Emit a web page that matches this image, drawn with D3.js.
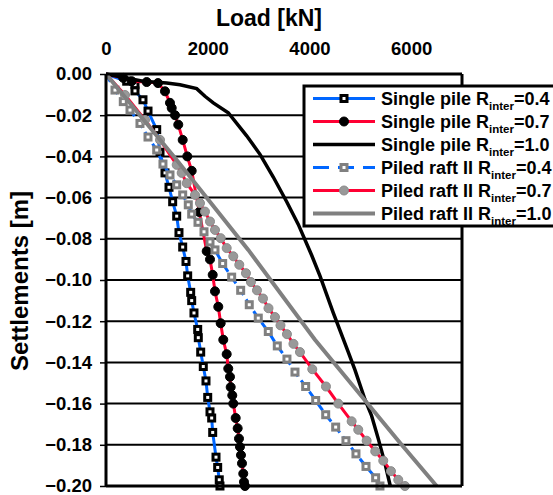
<!DOCTYPE html>
<html>
<head>
<meta charset="utf-8">
<script src="https://cdn.jsdelivr.net/npm/d3@7"></script>
<style>
  body { margin: 0; background: #fff; }
  svg text { font-family: Arial, "Liberation Sans", sans-serif; font-weight: bold; }
</style>
</head>
<body>
<svg id="chart" width="553" height="495"></svg>
<script>
/* ======================= DATA ======================= */
// [load kN, settlement m]
let singlePile04 = [[0,0],[407,-0.0035],[570,-0.0052],[570,-0.0082],[727,-0.0125],[826,-0.018],[997,-0.027],
    [1062,-0.038],[1160,-0.048],[1239,-0.055],[1311,-0.062],[1390,-0.069],[1435,-0.077],[1508,-0.084],
    [1573,-0.091],[1606,-0.098],[1665,-0.106],[1685,-0.110],[1730,-0.116],[1803,-0.124],[1815,-0.128],
    [1862,-0.135],[1913,-0.142],[1966,-0.149],[2000,-0.157],[2045,-0.164],[2078,-0.167],[2098,-0.174],
    [2163,-0.186],[2196,-0.191],[2227,-0.197],[2241,-0.200]];

let singlePile07 = [[0,0],[340,-0.0019],[505,-0.0035],[800,-0.0039],[1022,-0.0044],[1160,-0.0084],[1258,-0.014],
    [1292,-0.0165],[1357,-0.020],[1421,-0.0246],[1508,-0.032],[1598,-0.040],[1685,-0.047],[1834,-0.067],
    [1980,-0.086],[2045,-0.090],[2098,-0.0975],[2143,-0.1055],[2208,-0.113],[2255,-0.121],[2306,-0.129],
    [2373,-0.136],[2404,-0.143],[2438,-0.147],[2452,-0.152],[2483,-0.156],[2503,-0.160],[2550,-0.167],
    [2589,-0.172],[2615,-0.177],[2634,-0.181],[2654,-0.185],[2674,-0.189],[2699,-0.194],[2713,-0.198],[2733,-0.200]];

let singlePile10 = [[0,0],[727,-0.0035],[1193,-0.0044],[1455,-0.0052],[1783,-0.0071],[1946,-0.0108],[2110,-0.014],
    [2404,-0.0188],[2766,-0.030],[3028,-0.039],[3289,-0.050],[3553,-0.062],[3781,-0.073],[4044,-0.088],
    [4207,-0.098],[4469,-0.116],[4764,-0.135],[4895,-0.1436],[5092,-0.158],[5224,-0.166],[5353,-0.177],
    [5485,-0.189],[5590,-0.200]];

let piledRaft04 = [[0,0],[177,-0.0078],[340,-0.0134],[472,-0.0175],[668,-0.024],[826,-0.0306],[997,-0.0369],
    [1120,-0.0437],[1258,-0.049],[1390,-0.0538],[1508,-0.0587],[1618,-0.0635],[1685,-0.068],[1809,-0.072],
    [1927,-0.0766],[2045,-0.0815],[2143,-0.0854],[2294,-0.092],[2471,-0.0986],[2648,-0.105],[2817,-0.112],
    [2994,-0.1185],[3191,-0.125],[3368,-0.132],[3558,-0.1384],[3716,-0.1447],[3926,-0.1517],[4123,-0.1585],
    [4320,-0.1654],[4516,-0.1714],[4718,-0.178],[4915,-0.1844],[5112,-0.1905],[5302,-0.196],[5387,-0.200]];

let piledRaft07 = [[0,0],[374,-0.0102],[767,-0.0223],[1062,-0.032],[1390,-0.0441],[1488,-0.048],[1587,-0.053],
    [1750,-0.0587],[1848,-0.0627],[1946,-0.0668],[2045,-0.0716],[2143,-0.0757],[2255,-0.0797],[2373,-0.0845],
    [2503,-0.0885],[2621,-0.0926],[2752,-0.0967],[2850,-0.101],[2969,-0.105],[3087,-0.109],[3195,-0.1137],
    [3323,-0.118],[3431,-0.122],[3558,-0.1263],[3686,-0.131],[3814,-0.135],[4056,-0.1433],[4325,-0.1517],
    [4567,-0.160],[4830,-0.1686],[4960,-0.1727],[5125,-0.178],[5294,-0.1832],[5452,-0.1877],[5603,-0.1928],
    [5747,-0.197],[5878,-0.200]];

let piledRaft10 = [[0,0],[1390,-0.0417],[2798,-0.0854],[4109,-0.129],[4567,-0.1427],[5780,-0.179],[6501,-0.200]];

let xTicks = [0, 2000, 4000, 6000];
let yTicks = [0, -0.02, -0.04, -0.06, -0.08, -0.10, -0.12, -0.14, -0.16, -0.18, -0.20];

let seriesNames = ["Single pile R", "Single pile R", "Single pile R", "Piled raft II R", "Piled raft II R", "Piled raft II R"];
let seriesValues = ["=0.4", "=0.7", "=1.0", "=0.4", "=0.7", "=1.0"];

/* ====================== STYLES ====================== */
const BLUE = "#0066ff", RED = "#ff0033", GREY = "#808080";

let series = [
    { data: singlePile04, color: BLUE, width: 3, dash: null, marker: "square", mColor: "#000" },
    { data: singlePile07, color: RED, width: 3, dash: null, marker: "circle", mColor: "#000" },
    { data: singlePile10, color: "#000", width: 3.5, dash: null, marker: null },
    { data: piledRaft04, color: BLUE, width: 3, dash: "9,5", marker: "square", mColor: GREY },
    { data: piledRaft07, color: RED, width: 3, dash: null, marker: "circle", mColor: GREY },
    { data: piledRaft10, color: GREY, width: 4, dash: null, marker: null }
];

/* ====================== CHART ======================= */
let svg = d3.select("#chart");

let xScale = d3.scaleLinear().domain([0, 7000]).range([106, 462]);
let yScale = d3.scaleLinear().domain([0, -0.2]).range([74, 486]);

// grid lines
svg.append("g").selectAll("line")
   .data(yTicks.slice(1, -1))
   .join("line")
   .attr("x1", xScale(0)).attr("x2", xScale(7000))
   .attr("y1", d => yScale(d)).attr("y2", d => yScale(d))
   .attr("stroke", "#000").attr("stroke-width", 2);

// y axis ticks + labels
let yAxis = d3.axisLeft(yScale).tickValues(yTicks).tickSize(6).tickPadding(8)
              .tickFormat(d3.format(".2f"));
let yG = svg.append("g").attr("transform", "translate(106,0)").call(yAxis);
yG.select(".domain").remove();
yG.selectAll("line").attr("stroke-width", 1.5);
yG.selectAll("text").attr("font-size", 18.5).attr("fill", "#000")
  .attr("font-family", "Arial, 'Liberation Sans', sans-serif").attr("font-weight", "bold");

// x axis labels (top)
let xAxis = d3.axisTop(xScale).tickValues(xTicks).tickSize(0).tickPadding(0)
              .tickFormat(d3.format("d"));
let xG = svg.append("g").attr("transform", "translate(0,55)").call(xAxis);
xG.select(".domain").remove();
xG.selectAll("text").attr("font-size", 18.5).attr("fill", "#000")
  .attr("font-family", "Arial, 'Liberation Sans', sans-serif").attr("font-weight", "bold");

// series
let line = d3.line().x(d => xScale(d[0])).y(d => yScale(d[1]));
let plot = svg.append("g");

series.forEach(s => {
    plot.append("path")
        .datum(s.data)
        .attr("d", line)
        .attr("fill", "none")
        .attr("stroke", s.color)
        .attr("stroke-width", s.width)
        .attr("stroke-dasharray", s.dash);

    if (s.marker === "square") {
        plot.append("g").selectAll("rect")
            .data(s.data.slice(1))
            .join("rect")
            .attr("x", d => xScale(d[0]) - 3).attr("y", d => yScale(d[1]) - 3)
            .attr("width", 6).attr("height", 6)
            .attr("fill", "#fff").attr("stroke", s.mColor).attr("stroke-width", 3);
    } else if (s.marker === "circle") {
        plot.append("g").selectAll("circle")
            .data(s.data.slice(1))
            .join("circle")
            .attr("cx", d => xScale(d[0])).attr("cy", d => yScale(d[1]))
            .attr("r", 4.5)
            .attr("fill", s.mColor === GREY ? "#999" : "#000")
            .attr("stroke", s.mColor === GREY ? "#8a8a8a" : "#000").attr("stroke-width", 1);
    }
});

// frame
let frame = svg.append("g").attr("stroke", "#000").attr("stroke-width", 3);
frame.append("line").attr("x1", xScale(0)).attr("x2", xScale(7000)).attr("y1", yScale(0)).attr("y2", yScale(0));
frame.append("line").attr("x1", xScale(0)).attr("x2", xScale(7000)).attr("y1", yScale(-0.2)).attr("y2", yScale(-0.2));
frame.append("line").attr("x1", xScale(0)).attr("x2", xScale(0)).attr("y1", yScale(0)).attr("y2", yScale(-0.2));
frame.append("line").attr("x1", xScale(7000)).attr("x2", xScale(7000)).attr("y1", yScale(0)).attr("y2", yScale(-0.2));

// axis titles
svg.append("text").attr("x", 269).attr("y", 26).attr("text-anchor", "middle")
   .attr("font-size", 23).text("Load [kN]");
svg.append("text").attr("transform", "translate(28,281) rotate(-90)").attr("text-anchor", "middle")
   .attr("font-size", 24).text("Settlements [m]");

/* ====================== LEGEND ====================== */
let legend = svg.append("g").attr("transform", "translate(304,86)");
legend.append("rect").attr("x", 0).attr("y", 0).attr("width", 270).attr("height", 140)
      .attr("fill", "#fff").attr("stroke", "#000").attr("stroke-width", 3);

series.forEach((s, i) => {
    let y = 12.5 + i * 23;
    let g = legend.append("g").attr("transform", `translate(0,${y})`);
    g.append("line").attr("x1", 9).attr("x2", 71).attr("y1", 0).attr("y2", 0)
     .attr("stroke", s.color).attr("stroke-width", s.width)
     .attr("stroke-dasharray", s.dash ? "16,9" : null);
    if (s.marker === "square") {
        g.append("rect").attr("x", 37).attr("y", -3).attr("width", 6).attr("height", 6)
         .attr("fill", "#fff").attr("stroke", s.mColor).attr("stroke-width", 3);
    } else if (s.marker === "circle") {
        g.append("circle").attr("cx", 40).attr("cy", 0).attr("r", 4.5)
         .attr("fill", s.mColor === GREY ? "#999" : "#000")
         .attr("stroke", s.mColor === GREY ? "#8a8a8a" : "#000");
    }
    let t = g.append("text").attr("x", 77).attr("y", 6).attr("font-size", 18);
    t.append("tspan").text(seriesNames[i]);
    t.append("tspan").attr("font-size", 11.5).attr("dy", 5).text("inter");
    t.append("tspan").attr("dy", -5).text(seriesValues[i]);
});
</script>
</body>
</html>
